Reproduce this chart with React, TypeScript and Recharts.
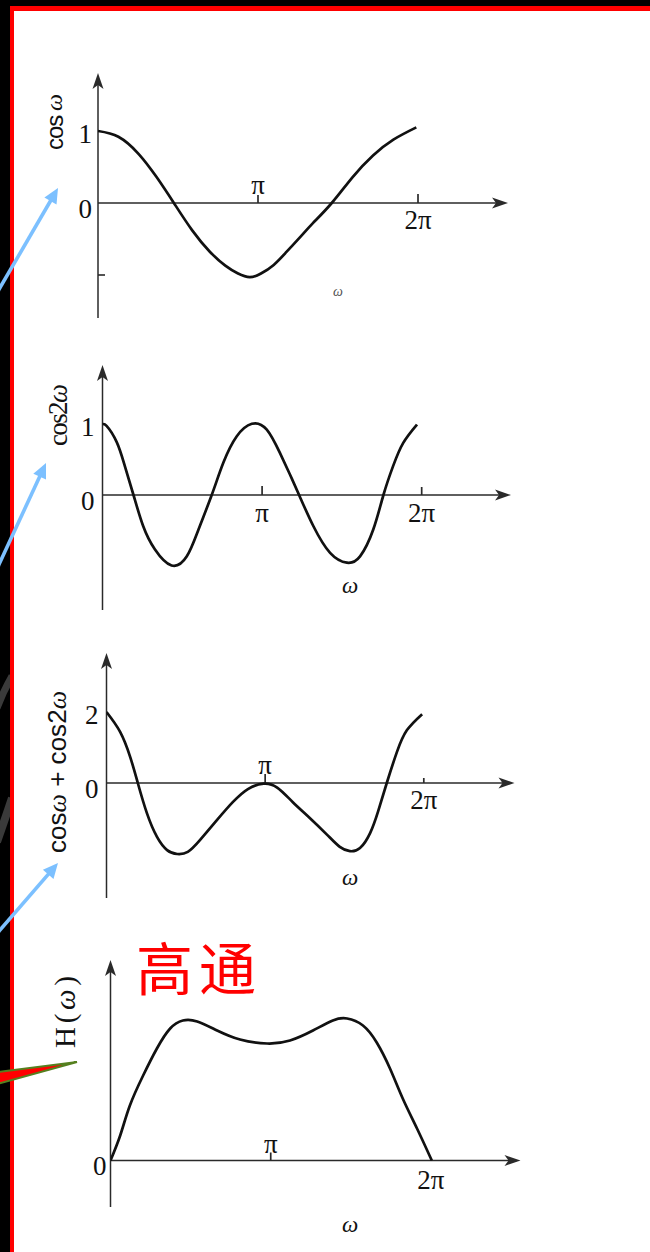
import React from 'react';
import { LineChart, Line, XAxis, YAxis, ReferenceLine, ReferenceDot } from 'recharts';

const PI = Math.PI;

// ---------- values ----------
// panel 1 : cos ω
const OMEGA_1 = [0, 0.4, 0.8, 1.15, 1.49, 1.85, 2.2, 2.5, 2.75, 2.98, 3.2, 3.45, 3.7, 4.0, 4.22, 4.59, 5.0, 5.4, 5.8, 6.25];
const COS_OMEGA = [1.0, 0.92, 0.68, 0.36, 0, -0.38, -0.68, -0.87, -0.98, -1.03, -0.98, -0.86, -0.68, -0.45, -0.28, 0, 0.36, 0.66, 0.88, 1.05];

// panel 2 : cos 2ω
const OMEGA_2 = [0, 0.08, 0.28, 0.44, 0.61, 0.8, 1.03, 1.36, 1.66, 1.89, 2.15, 2.38, 2.64, 2.94, 3.23, 3.49, 3.69, 3.87, 4.15, 4.48, 4.81, 5.07, 5.33, 5.53, 5.72, 5.92, 6.19];
const COS_2OMEGA = [1.0, 0.98, 0.75, 0.41, 0, -0.44, -0.77, -1.0, -0.87, -0.49, 0, 0.46, 0.83, 1.01, 0.93, 0.6, 0.29, 0, -0.44, -0.82, -0.96, -0.87, -0.49, 0, 0.41, 0.74, 1.0];

// panel 3 : cos ω + cos 2ω
const OMEGA_3 = [0, 0.27, 0.47, 0.62, 0.8, 1.0, 1.2, 1.4, 1.61, 1.85, 2.19, 2.5, 2.8, 3.11, 3.38, 3.69, 4.03, 4.37, 4.62, 4.82, 5.02, 5.22, 5.38, 5.55, 5.75, 5.95, 6.25];
const SUM_OMEGA = [2.0, 1.44, 0.73, 0, -0.85, -1.52, -1.89, -2.0, -1.94, -1.61, -1.04, -0.54, -0.17, -0.02, -0.13, -0.54, -0.99, -1.46, -1.8, -1.92, -1.83, -1.41, -0.79, 0, 0.87, 1.49, 1.94];

// panel 4 : H(ω)
const OMEGA_4 = [0, 0.19, 0.38, 0.64, 0.91, 1.17, 1.42, 1.7, 2.09, 2.54, 3.07, 3.52, 3.97, 4.36, 4.64, 4.95, 5.22, 5.48, 5.73, 6.01, 6.3];
const H_OMEGA = [0, 0.25, 0.55, 0.85, 1.12, 1.32, 1.4, 1.39, 1.3, 1.21, 1.17, 1.2, 1.3, 1.4, 1.42, 1.35, 1.18, 0.92, 0.62, 0.32, 0];

// tick values and labels
const X_TICKS = [PI, 2 * PI];
const X_TICK_LABELS = ['π', '2π'];
const Y_TICKS_1 = [1, 0, -1];
const Y_TICK_LABELS_1 = ['1', '0', ''];
const Y_TICKS_2 = [1, 0];
const Y_TICK_LABELS_2 = ['1', '0'];
const Y_TICKS_3 = [2, 0];
const Y_TICK_LABELS_3 = ['2', '0'];
const Y_TICKS_4 = [0];
const Y_TICK_LABELS_4 = ['0'];
const X_NAME = 'ω';
const ANNOTATION = '高通';

// ---------- styles ----------
const INK = '#111';
const AXIS_INK = '#2a2a2a';
const SERIF = "'Liberation Serif', 'DejaVu Serif', serif";
const SANS = "'Liberation Sans', 'DejaVu Sans', sans-serif";
const CJK = "'Noto Sans CJK SC', 'Noto Sans CJK JP', sans-serif";
const BLUE = '#7cc0ff';
const TICK_FONT = 27;

const toRows = (w: number[], v: number[]) => w.map((x, i) => ({ w: x, v: v[i] }));

const HArrow = (p: any) => {
  const xa = Math.min(p.x1, p.x2);
  const xb = Math.max(p.x1, p.x2);
  const y = p.y1;
  return (
    <g>
      <line x1={xa} y1={y} x2={xb - 10} y2={y} stroke={AXIS_INK} strokeWidth={1.5} />
      <polygon points={`${xb},${y} ${xb - 16},${y - 5.5} ${xb - 12},${y} ${xb - 16},${y + 5.5}`} fill={AXIS_INK} />
    </g>
  );
};

const VArrow = (p: any) => {
  const ya = Math.min(p.y1, p.y2);
  const yb = Math.max(p.y1, p.y2);
  const x = p.x1;
  return (
    <g>
      <line x1={x} y1={yb} x2={x} y2={ya + 10} stroke={AXIS_INK} strokeWidth={1.5} />
      <polygon points={`${x},${ya} ${x - 5.5},${ya + 16} ${x},${ya + 12} ${x + 5.5},${ya + 16}`} fill={AXIS_INK} />
    </g>
  );
};

const RotTitle = (props: any) => {
  const { cx, cy, parts, size, length } = props;
  return (
    <text
      transform={`rotate(-90 ${cx} ${cy})`}
      x={cx}
      y={cy}
      textAnchor="middle"
      dominantBaseline="central"
      fontSize={size}
      fill={INK}
      textLength={length}
      lengthAdjust="spacing"
    >
      {parts.map((pt: any, i: number) => (
        <tspan key={i} fontFamily={pt.font} fontStyle={pt.italic ? 'italic' : 'normal'}>
          {pt.t}
        </tspan>
      ))}
    </text>
  );
};

function Panel(props: any) {
  const { L, rows, yTicks, yTickLabels, xSides, xHeights, xOffsets, omega, title } = props;
  const xMax = (L.arrowX - L.axisX) / L.pxPerRad;
  const yHi = (L.zeroY - L.axisTopY) / L.pxPerUnit;
  const yLo = (L.zeroY - L.axisBottomY) / L.pxPerUnit;
  const top = L.axisTopY - 20;
  const height = L.axisBottomY - L.axisTopY + 50;
  const toX = (px: number) => (px - L.axisX) / L.pxPerRad;
  const toY = (py: number) => (L.zeroY - py) / L.pxPerUnit;
  const tm = L.tickMargin;

  const renderYTick = (p: any) => {
    const idx = yTicks.indexOf(p.payload.value);
    const lab = idx >= 0 ? yTickLabels[idx] : '';
    if (lab === '') {
      return <line x1={p.x + tm} y1={p.y} x2={p.x + tm + 7} y2={p.y} stroke={AXIS_INK} strokeWidth={1.6} />;
    }
    return (
      <text x={p.x} y={p.y + (lab === '0' ? 5 : 2)} dy="0.36em" textAnchor="end" fontSize={TICK_FONT} fontFamily={SERIF} fill={INK}>
        {lab}
      </text>
    );
  };

  return (
    <div style={{ position: 'absolute', left: 0, top, width: 650, height }}>
      <LineChart
        width={650}
        height={height}
        data={rows}
        margin={{ top: 20, right: 650 - L.arrowX, bottom: 30, left: L.axisX - 60 }}
      >
        <XAxis type="number" dataKey="w" domain={[0, xMax]} allowDataOverflow hide />
        <YAxis
          type="number"
          domain={[yLo, yHi]}
          allowDataOverflow
          ticks={yTicks}
          interval={0}
          axisLine={false}
          tickLine={false}
          tickSize={0}
          tickMargin={tm}
          width={60}
          tick={renderYTick}
          label={<RotTitle cx={title.cx} cy={title.cy - top} parts={title.parts} size={title.size} length={title.length} />}
        />
        <ReferenceLine segment={[{ x: 0, y: 0 }, { x: xMax, y: 0 }]} ifOverflow="visible" shape={HArrow} />
        <ReferenceLine segment={[{ x: 0, y: yLo }, { x: 0, y: yHi }]} ifOverflow="visible" shape={VArrow} />
        {X_TICKS.map((t, i) => (
          <ReferenceLine
            key={i}
            segment={[{ x: t, y: 0 }, { x: t, y: xHeights[i] / L.pxPerUnit }]}
            ifOverflow="visible"
            stroke={AXIS_INK}
            strokeWidth={xHeights[i] > 0 ? 1.7 : 0}
            label={{
              value: X_TICK_LABELS[i],
              position: xSides[i],
              offset: xOffsets[i],
              fontSize: TICK_FONT,
              fontFamily: SERIF,
              fill: INK,
            }}
          />
        ))}
        <Line
          dataKey="v"
          type="natural"
          dot={false}
          stroke={INK}
          strokeWidth={2.7}
          isAnimationActive={false}
        />
        <ReferenceDot
          x={toX(omega.px)}
          y={toY(omega.py)}
          r={0}
          fill="none"
          stroke="none"
          ifOverflow="visible"
          label={{
            value: X_NAME,
            position: 'center',
            fontSize: omega.size,
            fontStyle: 'italic',
            fontFamily: SERIF,
            fill: INK,
            opacity: omega.opacity,
          }}
        />
      </LineChart>
    </div>
  );
}

const headPoints = (fx: number, fy: number, tx: number, ty: number, len: number, half: number) => {
  const dx = tx - fx;
  const dy = ty - fy;
  const d = Math.hypot(dx, dy);
  const ux = dx / d;
  const uy = dy / d;
  const bx = tx - ux * len;
  const by = ty - uy * len;
  return {
    pts: `${tx},${ty} ${bx - uy * half},${by + ux * half} ${bx + uy * half},${by - ux * half}`,
    bx: tx - ux * (len - 2),
    by: ty - uy * (len - 2),
  };
};

const BlueArrow = ({ fx, fy, tx, ty }: any) => {
  const h = headPoints(fx, fy, tx, ty, 15, 7);
  return (
    <g>
      <line x1={fx} y1={fy} x2={h.bx} y2={h.by} stroke={BLUE} strokeWidth={3.6} />
      <polygon points={h.pts} fill={BLUE} />
    </g>
  );
};

export default function App() {
  const p1 = toRows(OMEGA_1, COS_OMEGA);
  const p2 = toRows(OMEGA_2, COS_2OMEGA);
  const p3 = toRows(OMEGA_3, SUM_OMEGA);
  const p4 = toRows(OMEGA_4, H_OMEGA);

  return (
    <div style={{ position: 'absolute', left: 0, top: 0, width: 650, height: 1252, background: '#000', overflow: 'hidden' }}>
      <svg width={650} height={1252} style={{ position: 'absolute', left: 0, top: 0 }}>
        <path d="M -3 708 Q 3 692 12 676" stroke="#3a3a3a" strokeWidth={7} fill="none" />
        <path d="M -3 842 Q 4 822 12 798" stroke="#3a3a3a" strokeWidth={8} fill="none" />
      </svg>
      <div style={{ position: 'absolute', left: 10, top: 6, right: 0, bottom: 0, background: '#ff0000' }} />
      <div style={{ position: 'absolute', left: 14, top: 11, right: 0, bottom: 0, background: '#fff' }} />

      <Panel
        L={{ axisX: 98, pxPerRad: 50.93, arrowX: 508, zeroY: 203, pxPerUnit: 72, axisTopY: 73, axisBottomY: 318, tickMargin: 6 }}
        rows={p1}
        yTicks={Y_TICKS_1}
        yTickLabels={Y_TICK_LABELS_1}
        xSides={['top', 'bottom']}
        xHeights={[8, 9]}
        xOffsets={[1, 7]}
        omega={{ px: 338, py: 291, size: 14, opacity: 0.75 }}
        title={{ cx: 54, cy: 122, size: 24, length: 56, parts: [{ t: 'cos', font: SANS }, { t: ' ω', font: SERIF, italic: true }] }}
      />
      <Panel
        L={{ axisX: 102.5, pxPerRad: 50.8, arrowX: 511, zeroY: 495, pxPerUnit: 70.5, axisTopY: 365, axisBottomY: 610, tickMargin: 8 }}
        rows={p2}
        yTicks={Y_TICKS_2}
        yTickLabels={Y_TICK_LABELS_2}
        xSides={['bottom', 'bottom']}
        xHeights={[9, 8]}
        xOffsets={[8, 8]}
        omega={{ px: 350, py: 585, size: 23, opacity: 1 }}
        title={{ cx: 58, cy: 415, size: 27, length: 62, parts: [{ t: 'cos2', font: SERIF }, { t: 'ω', font: SERIF, italic: true }] }}
      />
      <Panel
        L={{ axisX: 106.5, pxPerRad: 50.5, arrowX: 514.5, zeroY: 783, pxPerUnit: 35.5, axisTopY: 653, axisBottomY: 898, tickMargin: 8 }}
        rows={p3}
        yTicks={Y_TICKS_3}
        yTickLabels={Y_TICK_LABELS_3}
        xSides={['top', 'bottom']}
        xHeights={[9, 5]}
        xOffsets={[0, 7]}
        omega={{ px: 350, py: 877, size: 23, opacity: 1 }}
        title={{
          cx: 57,
          cy: 772,
          size: 26,
          length: 162,
          parts: [
            { t: 'cos', font: SANS },
            { t: 'ω', font: SERIF, italic: true },
            { t: ' + cos2', font: SANS },
            { t: 'ω', font: SERIF, italic: true },
          ],
        }}
      />
      <Panel
        L={{ axisX: 110.5, pxPerRad: 51, arrowX: 520.5, zeroY: 1160.5, pxPerUnit: 100, axisTopY: 960, axisBottomY: 1207, tickMargin: 4 }}
        rows={p4}
        yTicks={Y_TICKS_4}
        yTickLabels={Y_TICK_LABELS_4}
        xSides={['top', 'bottom']}
        xHeights={[8, 0]}
        xOffsets={[0, 9]}
        omega={{ px: 350, py: 1224, size: 23, opacity: 1 }}
        title={{
          cx: 65,
          cy: 1012,
          size: 29,
          length: 72,
          parts: [
            { t: 'H(', font: SERIF },
            { t: 'ω', font: SERIF, italic: true },
            { t: ')', font: SERIF },
          ],
        }}
      />

      <svg width={650} height={1252} style={{ position: 'absolute', left: 0, top: 0, pointerEvents: 'none' }}>
        <BlueArrow fx={-6} fy={298} tx={58} ty={188} />
        <BlueArrow fx={-5} fy={573} tx={46} ty={463} />
        <BlueArrow fx={-6} fy={937} tx={58} ty={863} />
        <polygon points="-10,1073 77,1062 -10,1086" fill="#ff0000" stroke="#55801f" strokeWidth={2} />
        <text x={136} y={990} fontSize={57} letterSpacing={6} fontFamily={CJK} fill="#ff0000">
          {ANNOTATION}
        </text>
      </svg>
    </div>
  );
}
